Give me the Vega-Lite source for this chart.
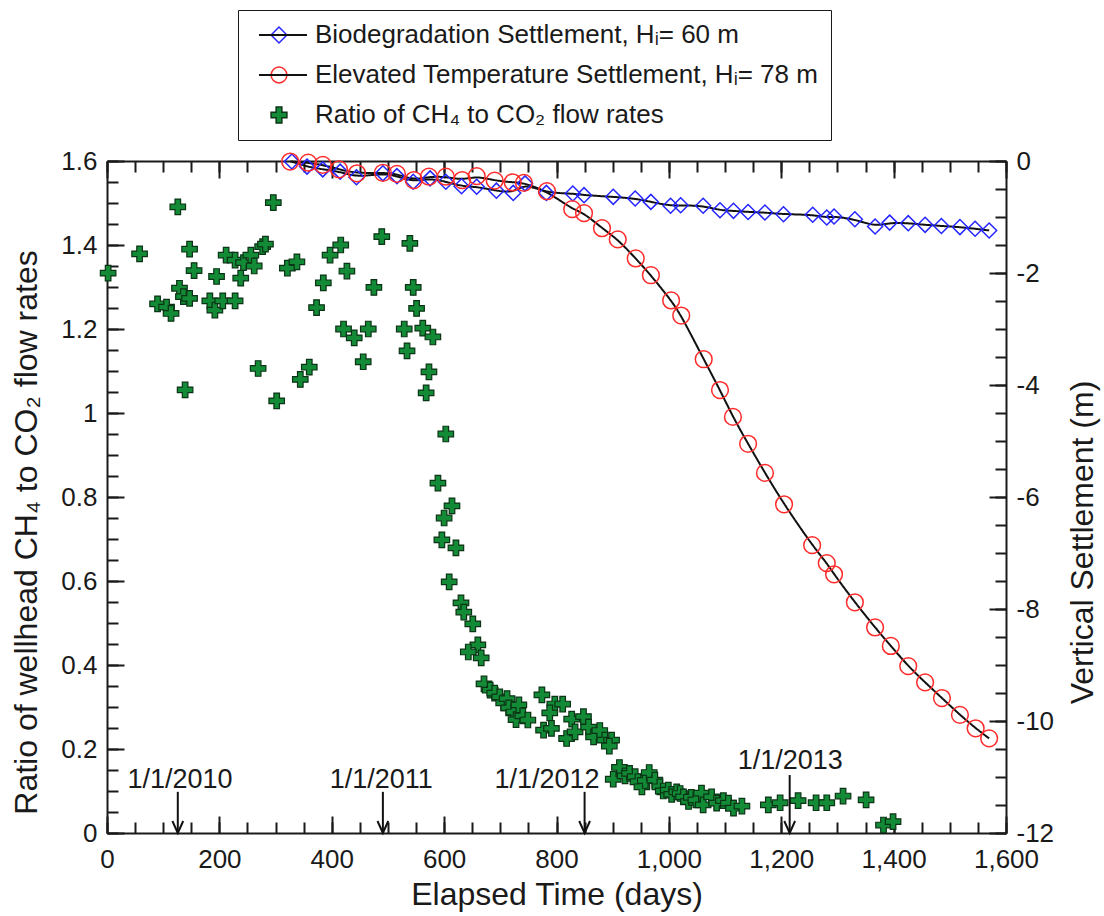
{
  "$schema": "https://vega.github.io/schema/vega-lite/v6.json",
  "width": 899,
  "height": 672,
  "autosize": {"type": "none"},
  "padding": {"left": 107, "top": 161, "right": 98, "bottom": 83},
  "background": "white",
  "config": {
    "view": {"stroke": null},
    "font": "Liberation Sans",
    "axis": {
      "labelFont": "Liberation Sans", "titleFont": "Liberation Sans",
      "labelFontSize": 26, "titleFontSize": 32, "titleFontWeight": "normal",
      "labelColor": "#1a1a1a", "titleColor": "#1a1a1a",
      "domainColor": "#1a1a1a", "tickColor": "#1a1a1a",
      "domainWidth": 2, "tickWidth": 2, "grid": false, "labelFlush": false, "labelOverlap": false
    },
    "legend": {"labelFont": "Liberation Sans"}
  },
  "datasets": {
    "ratio": [
      {"day":2,"ratio":1.333,"series":"ratio"},{"day":58,"ratio":1.379,"series":"ratio"},{"day":90,"ratio":1.26,"series":"ratio"},
      {"day":106,"ratio":1.252,"series":"ratio"},{"day":114,"ratio":1.237,"series":"ratio"},{"day":126,"ratio":1.491,"series":"ratio"},
      {"day":129,"ratio":1.297,"series":"ratio"},{"day":136,"ratio":1.277,"series":"ratio"},{"day":147,"ratio":1.273,"series":"ratio"},
      {"day":139,"ratio":1.055,"series":"ratio"},{"day":147,"ratio":1.39,"series":"ratio"},{"day":155,"ratio":1.339,"series":"ratio"},
      {"day":183,"ratio":1.267,"series":"ratio"},{"day":192,"ratio":1.245,"series":"ratio"},{"day":195,"ratio":1.325,"series":"ratio"},
      {"day":206,"ratio":1.267,"series":"ratio"},{"day":212,"ratio":1.376,"series":"ratio"},{"day":228,"ratio":1.364,"series":"ratio"},
      {"day":228,"ratio":1.267,"series":"ratio"},{"day":238,"ratio":1.321,"series":"ratio"},{"day":243,"ratio":1.358,"series":"ratio"},
      {"day":256,"ratio":1.376,"series":"ratio"},{"day":262,"ratio":1.35,"series":"ratio"},{"day":269,"ratio":1.106,"series":"ratio"},
      {"day":277,"ratio":1.396,"series":"ratio"},{"day":282,"ratio":1.402,"series":"ratio"},{"day":296,"ratio":1.501,"series":"ratio"},
      {"day":302,"ratio":1.029,"series":"ratio"},{"day":321,"ratio":1.345,"series":"ratio"},{"day":338,"ratio":1.36,"series":"ratio"},
      {"day":344,"ratio":1.08,"series":"ratio"},{"day":360,"ratio":1.109,"series":"ratio"},{"day":373,"ratio":1.251,"series":"ratio"},
      {"day":385,"ratio":1.31,"series":"ratio"},{"day":397,"ratio":1.376,"series":"ratio"},{"day":416,"ratio":1.4,"series":"ratio"},
      {"day":427,"ratio":1.338,"series":"ratio"},{"day":421,"ratio":1.2,"series":"ratio"},{"day":440,"ratio":1.179,"series":"ratio"},
      {"day":456,"ratio":1.122,"series":"ratio"},{"day":465,"ratio":1.2,"series":"ratio"},{"day":475,"ratio":1.299,"series":"ratio"},
      {"day":489,"ratio":1.42,"series":"ratio"},{"day":529,"ratio":1.2,"series":"ratio"},{"day":534,"ratio":1.148,"series":"ratio"},
      {"day":539,"ratio":1.404,"series":"ratio"},{"day":545,"ratio":1.299,"series":"ratio"},{"day":551,"ratio":1.249,"series":"ratio"},
      {"day":562,"ratio":1.202,"series":"ratio"},{"day":580,"ratio":1.181,"series":"ratio"},{"day":573,"ratio":1.098,"series":"ratio"},
      {"day":568,"ratio":1.048,"series":"ratio"},{"day":603,"ratio":0.95,"series":"ratio"},{"day":589,"ratio":0.833,"series":"ratio"},
      {"day":614,"ratio":0.779,"series":"ratio"},{"day":600,"ratio":0.75,"series":"ratio"},{"day":596,"ratio":0.698,"series":"ratio"},
      {"day":621,"ratio":0.679,"series":"ratio"},{"day":609,"ratio":0.598,"series":"ratio"},{"day":630,"ratio":0.548,"series":"ratio"},
      {"day":635,"ratio":0.526,"series":"ratio"},{"day":651,"ratio":0.498,"series":"ratio"},{"day":660,"ratio":0.448,"series":"ratio"},
      {"day":643,"ratio":0.431,"series":"ratio"},{"day":666,"ratio":0.417,"series":"ratio"},{"day":671,"ratio":0.355,"series":"ratio"},
      {"day":682,"ratio":0.34,"series":"ratio"},{"day":690,"ratio":0.333,"series":"ratio"},{"day":699,"ratio":0.324,"series":"ratio"},
      {"day":706,"ratio":0.31,"series":"ratio"},{"day":712,"ratio":0.32,"series":"ratio"},{"day":715,"ratio":0.298,"series":"ratio"},
      {"day":724,"ratio":0.288,"series":"ratio"},{"day":728,"ratio":0.27,"series":"ratio"},{"day":733,"ratio":0.305,"series":"ratio"},
      {"day":740,"ratio":0.279,"series":"ratio"},{"day":749,"ratio":0.269,"series":"ratio"},{"day":774,"ratio":0.329,"series":"ratio"},
      {"day":797,"ratio":0.307,"series":"ratio"},{"day":811,"ratio":0.307,"series":"ratio"},{"day":788,"ratio":0.286,"series":"ratio"},
      {"day":777,"ratio":0.245,"series":"ratio"},{"day":791,"ratio":0.249,"series":"ratio"},{"day":818,"ratio":0.225,"series":"ratio"},
      {"day":827,"ratio":0.271,"series":"ratio"},{"day":848,"ratio":0.277,"series":"ratio"},{"day":833,"ratio":0.241,"series":"ratio"},
      {"day":857,"ratio":0.252,"series":"ratio"},{"day":866,"ratio":0.229,"series":"ratio"},{"day":877,"ratio":0.244,"series":"ratio"},
      {"day":886,"ratio":0.221,"series":"ratio"},{"day":898,"ratio":0.221,"series":"ratio"},{"day":894,"ratio":0.207,"series":"ratio"},
      {"day":912,"ratio":0.156,"series":"ratio"},{"day":901,"ratio":0.128,"series":"ratio"},{"day":922,"ratio":0.136,"series":"ratio"},
      {"day":930,"ratio":0.142,"series":"ratio"},{"day":940,"ratio":0.134,"series":"ratio"},{"day":945,"ratio":0.122,"series":"ratio"},
      {"day":952,"ratio":0.11,"series":"ratio"},{"day":958,"ratio":0.125,"series":"ratio"},{"day":965,"ratio":0.144,"series":"ratio"},
      {"day":975,"ratio":0.126,"series":"ratio"},{"day":984,"ratio":0.11,"series":"ratio"},{"day":990,"ratio":0.1,"series":"ratio"},
      {"day":999,"ratio":0.102,"series":"ratio"},{"day":1005,"ratio":0.092,"series":"ratio"},{"day":1014,"ratio":0.098,"series":"ratio"},
      {"day":1020,"ratio":0.094,"series":"ratio"},{"day":1026,"ratio":0.086,"series":"ratio"},{"day":1035,"ratio":0.075,"series":"ratio"},
      {"day":1040,"ratio":0.085,"series":"ratio"},{"day":1048,"ratio":0.079,"series":"ratio"},{"day":1058,"ratio":0.095,"series":"ratio"},
      {"day":1061,"ratio":0.067,"series":"ratio"},{"day":1076,"ratio":0.086,"series":"ratio"},{"day":1085,"ratio":0.071,"series":"ratio"},
      {"day":1097,"ratio":0.077,"series":"ratio"},{"day":1106,"ratio":0.071,"series":"ratio"},{"day":1115,"ratio":0.059,"series":"ratio"},
      {"day":1130,"ratio":0.064,"series":"ratio"},{"day":1177,"ratio":0.067,"series":"ratio"},{"day":1198,"ratio":0.072,"series":"ratio"},
      {"day":1230,"ratio":0.077,"series":"ratio"},{"day":1262,"ratio":0.072,"series":"ratio"},{"day":1281,"ratio":0.072,"series":"ratio"},
      {"day":1310,"ratio":0.088,"series":"ratio"},{"day":1351,"ratio":0.079,"series":"ratio"},{"day":1382,"ratio":0.019,"series":"ratio"},
      {"day":1399,"ratio":0.027,"series":"ratio"}
    ],
    "bio": [
      {"day":329,"settle":-0.01,"series":"bio"},{"day":356,"settle":-0.1,"series":"bio"},{"day":384,"settle":-0.15,"series":"bio"},
      {"day":415,"settle":-0.19,"series":"bio"},{"day":444,"settle":-0.29,"series":"bio"},{"day":491,"settle":-0.22,"series":"bio"},
      {"day":516,"settle":-0.27,"series":"bio"},{"day":545,"settle":-0.37,"series":"bio"},{"day":575,"settle":-0.31,"series":"bio"},
      {"day":603,"settle":-0.37,"series":"bio"},{"day":631,"settle":-0.45,"series":"bio"},{"day":658,"settle":-0.46,"series":"bio"},
      {"day":693,"settle":-0.53,"series":"bio"},{"day":723,"settle":-0.57,"series":"bio"},{"day":744,"settle":-0.4,"series":"bio"},
      {"day":782,"settle":-0.57,"series":"bio"},{"day":829,"settle":-0.58,"series":"bio"},{"day":849,"settle":-0.61,"series":"bio"},
      {"day":901,"settle":-0.64,"series":"bio"},{"day":940,"settle":-0.67,"series":"bio"},{"day":968,"settle":-0.73,"series":"bio"},
      {"day":1003,"settle":-0.8,"series":"bio"},{"day":1021,"settle":-0.79,"series":"bio"},{"day":1061,"settle":-0.8,"series":"bio"},
      {"day":1091,"settle":-0.88,"series":"bio"},{"day":1115,"settle":-0.89,"series":"bio"},{"day":1141,"settle":-0.91,"series":"bio"},
      {"day":1171,"settle":-0.92,"series":"bio"},{"day":1204,"settle":-0.95,"series":"bio"},{"day":1256,"settle":-0.96,"series":"bio"},
      {"day":1281,"settle":-1.01,"series":"bio"},{"day":1294,"settle":-0.99,"series":"bio"},{"day":1331,"settle":-1.04,"series":"bio"},
      {"day":1367,"settle":-1.17,"series":"bio"},{"day":1393,"settle":-1.1,"series":"bio"},{"day":1426,"settle":-1.11,"series":"bio"},
      {"day":1456,"settle":-1.14,"series":"bio"},{"day":1485,"settle":-1.16,"series":"bio"},{"day":1518,"settle":-1.18,"series":"bio"},
      {"day":1545,"settle":-1.21,"series":"bio"},{"day":1570,"settle":-1.24,"series":"bio"}
    ],
    "elev": [
      {"day":326,"settle":-0.01,"series":"elev"},{"day":358,"settle":-0.03,"series":"elev"},{"day":384,"settle":-0.07,"series":"elev"},
      {"day":413,"settle":-0.15,"series":"elev"},{"day":445,"settle":-0.22,"series":"elev"},{"day":491,"settle":-0.21,"series":"elev"},
      {"day":516,"settle":-0.23,"series":"elev"},{"day":546,"settle":-0.34,"series":"elev"},{"day":573,"settle":-0.28,"series":"elev"},
      {"day":603,"settle":-0.28,"series":"elev"},{"day":632,"settle":-0.34,"series":"elev"},{"day":658,"settle":-0.27,"series":"elev"},
      {"day":690,"settle":-0.35,"series":"elev"},{"day":722,"settle":-0.38,"series":"elev"},{"day":742,"settle":-0.39,"series":"elev"},
      {"day":783,"settle":-0.54,"series":"elev"},{"day":828,"settle":-0.86,"series":"elev"},{"day":849,"settle":-0.93,"series":"elev"},
      {"day":881,"settle":-1.2,"series":"elev"},{"day":909,"settle":-1.4,"series":"elev"},{"day":941,"settle":-1.74,"series":"elev"},
      {"day":968,"settle":-2.04,"series":"elev"},{"day":1004,"settle":-2.49,"series":"elev"},{"day":1022,"settle":-2.76,"series":"elev"},
      {"day":1062,"settle":-3.54,"series":"elev"},{"day":1091,"settle":-4.09,"series":"elev"},{"day":1114,"settle":-4.57,"series":"elev"},
      {"day":1141,"settle":-5.05,"series":"elev"},{"day":1171,"settle":-5.57,"series":"elev"},{"day":1205,"settle":-6.13,"series":"elev"},
      {"day":1255,"settle":-6.86,"series":"elev"},{"day":1281,"settle":-7.18,"series":"elev"},{"day":1294,"settle":-7.38,"series":"elev"},
      {"day":1331,"settle":-7.88,"series":"elev"},{"day":1367,"settle":-8.33,"series":"elev"},{"day":1395,"settle":-8.66,"series":"elev"},
      {"day":1426,"settle":-9.02,"series":"elev"},{"day":1456,"settle":-9.31,"series":"elev"},{"day":1486,"settle":-9.59,"series":"elev"},
      {"day":1518,"settle":-9.89,"series":"elev"},{"day":1546,"settle":-10.13,"series":"elev"},{"day":1570,"settle":-10.31,"series":"elev"}
    ],
    "arrows": [
      {"day":126,"top":0.098,"label":"1/1/2010","labelDay":130,"labelRatio":0.126},
      {"day":491,"top":0.098,"label":"1/1/2011","labelDay":488,"labelRatio":0.126},
      {"day":850,"top":0.098,"label":"1/1/2012","labelDay":783,"labelRatio":0.126},
      {"day":1215,"top":0.138,"label":"1/1/2013","labelDay":1216,"labelRatio":0.171}
    ]
  },
  "resolve": {"scale": {"y": "independent"}, "axis": {"x": "independent", "y": "independent"}},
  "layer": [
    {
      "data": {"name": "ratio"},
      "mark": {"type": "point", "size": 240, "strokeWidth": 1.2, "opacity": 1},
      "encoding": {
        "x": {"field": "day", "type": "quantitative", "scale": {"domain": [0, 1600], "nice": false, "zero": false},
              "axis": {"orient": "bottom", "values": [0,200,400,600,800,1000,1200,1400,1600], "format": ",d", "ticks": false, "labelPadding": 13, "domain": true, "title": "Elapsed Time (days)", "titlePadding": 7}},
        "y": {"field": "ratio", "type": "quantitative", "scale": {"domain": [0, 1.6], "nice": false},
              "axis": {"orient": "left", "values": [0,0.2,0.4,0.6,0.8,1,1.2,1.4,1.6], "format": "~g", "ticks": false, "labelPadding": 10, "domain": true, "title": "Ratio of wellhead CH₄ to CO₂ flow rates", "titlePadding": 17, "titleY": 371}},
        "fill": {"field": "series", "type": "nominal", "scale": {"domain": ["bio","elev","ratio"], "range": ["transparent","transparent","#138a36"]},
                 "legend": {"orient": "none", "legendX": 131, "legendY": -151, "title": null, "padding": 12, "strokeColor": "#1a1a1a", "rowPadding": 14, "symbolOffset": 16, "labelOffset": 23, "labelFontSize": 26, "labelColor": "#1a1a1a", "labelLimit": 1000, "symbolSize": 250, "symbolStrokeWidth": 1.5,
                            "labelExpr": "datum.value == 'bio' ? 'Biodegradation Settlement, Hᵢ= 60 m' : datum.value == 'elev' ? 'Elevated Temperature Settlement, Hᵢ= 78 m' : 'Ratio of CH₄ to CO₂ flow rates'"}},
        "stroke": {"field": "series", "type": "nominal", "scale": {"domain": ["bio","elev","ratio"], "range": ["#2525ff","#ff2b2b","#0b3315"]},
                 "legend": {"orient": "none", "legendX": 131, "legendY": -151, "title": null, "padding": 12, "strokeColor": "#1a1a1a", "rowPadding": 14, "symbolOffset": 16, "labelOffset": 23, "labelFontSize": 26, "labelColor": "#1a1a1a", "labelLimit": 1000, "symbolSize": 250, "symbolStrokeWidth": 1.5,
                            "labelExpr": "datum.value == 'bio' ? 'Biodegradation Settlement, Hᵢ= 60 m' : datum.value == 'elev' ? 'Elevated Temperature Settlement, Hᵢ= 78 m' : 'Ratio of CH₄ to CO₂ flow rates'"}},
        "shape": {"field": "series", "type": "nominal", "scale": {"domain": ["bio","elev","ratio"], "range": ["diamond","circle","M-0.36,-1H0.36V-0.36H1V0.36H0.36V1H-0.36V0.36H-1V-0.36H-0.36Z"]},
                 "legend": {"orient": "none", "legendX": 131, "legendY": -151, "title": null, "padding": 12, "strokeColor": "#1a1a1a", "rowPadding": 14, "symbolOffset": 16, "labelOffset": 23, "labelFontSize": 26, "labelColor": "#1a1a1a", "labelLimit": 1000, "symbolSize": 250, "symbolStrokeWidth": 1.5,
                            "labelExpr": "datum.value == 'bio' ? 'Biodegradation Settlement, Hᵢ= 60 m' : datum.value == 'elev' ? 'Elevated Temperature Settlement, Hᵢ= 78 m' : 'Ratio of CH₄ to CO₂ flow rates'"}}
      }
    },
    {
      "data": {"name": "arrows"},
      "mark": {"type": "rule", "stroke": "#111", "strokeWidth": 2},
      "encoding": {
        "x": {"field": "day", "type": "quantitative", "scale": {"domain": [0, 1600], "nice": false, "zero": false},
              "axis": {"orient": "bottom", "values": [0,200,400,600,800,1000,1200,1400,1600], "tickSize": -17, "labels": false, "domain": false, "title": null}},
        "y": {"field": "top", "type": "quantitative", "scale": {"domain": [0, 1.6], "nice": false},
              "axis": {"orient": "left", "values": [0,0.2,0.4,0.6,0.8,1,1.2,1.4,1.6], "tickSize": -17, "labels": false, "domain": false, "title": null}},
        "y2": {"datum": 0}
      }
    },
    {
      "data": {"name": "arrows"},
      "mark": {"type": "point", "shape": "M-0.9,-1L0,1L0.9,-1", "size": 144, "filled": false, "stroke": "#111", "strokeWidth": 2, "yOffset": -6, "opacity": 1},
      "encoding": {
        "x": {"field": "day", "type": "quantitative", "scale": {"domain": [0, 1600], "nice": false, "zero": false},
              "axis": {"orient": "bottom", "values": [0,50,100,150,200,250,300,350,400,450,500,550,600,650,700,750,800,850,900,950,1000,1050,1100,1150,1200,1250,1300,1350,1400,1450,1500,1550,1600], "tickSize": -11, "labels": false, "domain": false, "title": null}},
        "y": {"datum": 0, "type": "quantitative", "scale": {"domain": [0, 1.6], "nice": false},
              "axis": {"orient": "left", "values": [0,0.05,0.1,0.15,0.2,0.25,0.3,0.35,0.4,0.45,0.5,0.55,0.6,0.65,0.7,0.75,0.8,0.85,0.9,0.95,1,1.05,1.1,1.15,1.2,1.25,1.3,1.35,1.4,1.45,1.5,1.55,1.6], "tickSize": -11, "labels": false, "domain": false, "title": null}}
      }
    },
    {
      "data": {"name": "arrows"},
      "mark": {"type": "text", "fontSize": 27, "font": "Liberation Sans", "color": "#1a1a1a", "baseline": "middle", "align": "center"},
      "encoding": {
        "x": {"field": "labelDay", "type": "quantitative", "scale": {"domain": [0, 1600], "nice": false, "zero": false},
              "axis": {"orient": "top", "values": [0,200,400,600,800,1000,1200,1400,1600], "tickSize": -17, "labels": false, "domain": true, "title": null}},
        "y": {"field": "labelRatio", "type": "quantitative", "scale": {"domain": [0, 1.6], "nice": false}, "axis": null},
        "text": {"field": "label"}
      }
    },
    {
      "data": {"name": "bio"},
      "mark": {"type": "line", "stroke": "#111", "strokeWidth": 2, "interpolate": "basis"},
      "encoding": {
        "x": {"field": "day", "type": "quantitative", "scale": {"domain": [0, 1600], "nice": false, "zero": false},
              "axis": {"orient": "top", "values": [0,50,100,150,200,250,300,350,400,450,500,550,600,650,700,750,800,850,900,950,1000,1050,1100,1150,1200,1250,1300,1350,1400,1450,1500,1550,1600], "tickSize": -11, "labels": false, "domain": false, "title": null}},
        "y": {"field": "settle", "type": "quantitative", "scale": {"domain": [-12, 0], "nice": false, "zero": false},
              "axis": {"orient": "right", "values": [-12,-10,-8,-6,-4,-2,0], "ticks": false, "labelPadding": 10, "domain": true, "labelExpr": "datum.value < 0 ? '-' + format(-datum.value, 'd') : '0'", "title": "Vertical Settlement (m)", "titleAngle": 270, "titleBaseline": "top", "titlePadding": 14, "titleY": 381}},
        "strokeDash": {"field": "series", "type": "nominal", "scale": {"domain": ["bio","elev"], "range": [[1,0],[1,0]]},
                       "legend": {"orient": "none", "legendX": 163, "legendY": -139, "title": null, "padding": 0, "rowPadding": 14, "symbolOffset": 0, "symbolType": "M-6,0H6", "symbolSize": 64, "symbolStrokeColor": "#111", "symbolStrokeWidth": 2, "labelFontSize": 26, "labelOpacity": 0, "labelExpr": "' '", "labelOffset": 30}}
      }
    },
    {
      "data": {"name": "elev"},
      "mark": {"type": "line", "stroke": "#111", "strokeWidth": 2, "interpolate": "basis"},
      "encoding": {
        "x": {"field": "day", "type": "quantitative", "scale": {"domain": [0, 1600], "nice": false, "zero": false}, "axis": null},
        "y": {"field": "settle", "type": "quantitative", "scale": {"domain": [-12, 0], "nice": false, "zero": false},
              "axis": {"orient": "right", "values": [-12,-10,-8,-6,-4,-2,0], "tickSize": -17, "labels": false, "domain": false, "title": null}},
        "strokeDash": {"field": "series", "type": "nominal", "scale": {"domain": ["bio","elev"], "range": [[1,0],[1,0]]},
                       "legend": {"orient": "none", "legendX": 163, "legendY": -139, "title": null, "padding": 0, "rowPadding": 14, "symbolOffset": 0, "symbolType": "M-6,0H6", "symbolSize": 64, "symbolStrokeColor": "#111", "symbolStrokeWidth": 2, "labelFontSize": 26, "labelOpacity": 0, "labelExpr": "' '", "labelOffset": 30}}
      }
    },
    {
      "data": {"name": "bio"},
      "mark": {"type": "point", "size": 225, "strokeWidth": 1.5, "opacity": 1},
      "encoding": {
        "x": {"field": "day", "type": "quantitative", "scale": {"domain": [0, 1600], "nice": false, "zero": false}, "axis": null},
        "y": {"field": "settle", "type": "quantitative", "scale": {"domain": [-12, 0], "nice": false, "zero": false},
              "axis": {"orient": "right", "values": [-12,-11.5,-11,-10.5,-10,-9.5,-9,-8.5,-8,-7.5,-7,-6.5,-6,-5.5,-5,-4.5,-4,-3.5,-3,-2.5,-2,-1.5,-1,-0.5,0], "tickSize": -11, "labels": false, "domain": false, "title": null}},
        "fill": {"field": "series", "type": "nominal", "scale": {"domain": ["bio","elev","ratio"], "range": ["transparent","transparent","#138a36"]}},
        "stroke": {"field": "series", "type": "nominal", "scale": {"domain": ["bio","elev","ratio"], "range": ["#2525ff","#ff2b2b","#0b3315"]}},
        "shape": {"field": "series", "type": "nominal", "scale": {"domain": ["bio","elev","ratio"], "range": ["diamond","circle","M-0.36,-1H0.36V-0.36H1V0.36H0.36V1H-0.36V0.36H-1V-0.36H-0.36Z"]}}
      }
    },
    {
      "data": {"name": "elev"},
      "mark": {"type": "point", "size": 280, "strokeWidth": 1.5, "opacity": 1},
      "encoding": {
        "x": {"field": "day", "type": "quantitative", "scale": {"domain": [0, 1600], "nice": false, "zero": false}, "axis": null},
        "y": {"field": "settle", "type": "quantitative", "scale": {"domain": [-12, 0], "nice": false, "zero": false}, "axis": null},
        "fill": {"field": "series", "type": "nominal", "scale": {"domain": ["bio","elev","ratio"], "range": ["transparent","transparent","#138a36"]}},
        "stroke": {"field": "series", "type": "nominal", "scale": {"domain": ["bio","elev","ratio"], "range": ["#2525ff","#ff2b2b","#0b3315"]}},
        "shape": {"field": "series", "type": "nominal", "scale": {"domain": ["bio","elev","ratio"], "range": ["diamond","circle","M-0.36,-1H0.36V-0.36H1V0.36H0.36V1H-0.36V0.36H-1V-0.36H-0.36Z"]}}
      }
    }
  ]
}
